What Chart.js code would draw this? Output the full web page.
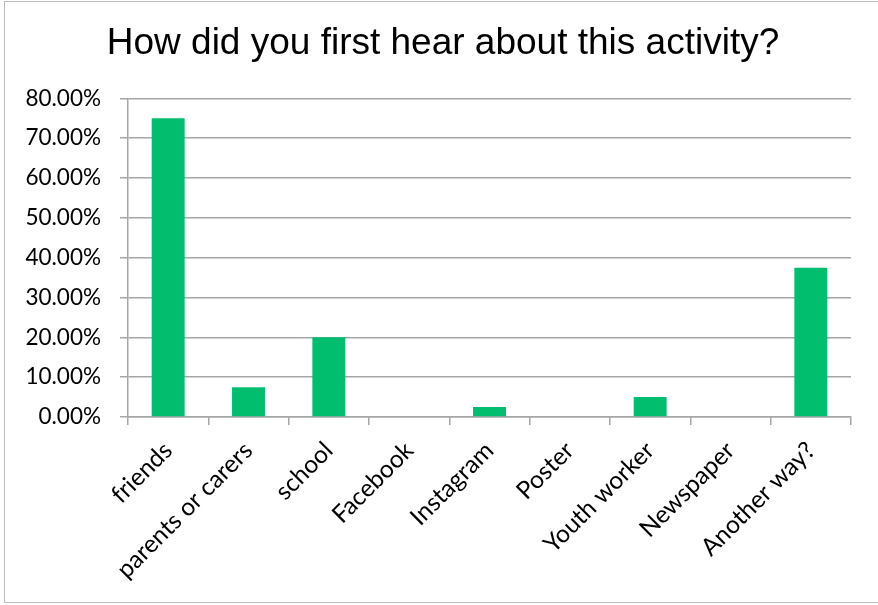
<!DOCTYPE html>
<html>
<head>
<meta charset="utf-8">
<script src="https://cdn.jsdelivr.net/npm/chart.js@4.4.0/dist/chart.umd.min.js"></script>
<style>
  html, body { margin: 0; padding: 0; background: #fff; }
  #wrap { position: relative; width: 878px; height: 605px; overflow: hidden; }
  #frame { position: absolute; left: 4px; top: 1px; width: 900px; height: 602px; border: 1.5px solid #bcbcbc; box-sizing: border-box; pointer-events: none; }
  canvas { position: absolute; left: 0; top: 0; }
</style>
</head>
<body>
<div id="wrap">
  <canvas id="chart" width="878" height="605"></canvas>
  <div id="frame"></div>
</div>
<script>
// Survey answers: share of respondents per source
const categories = ['friends', 'parents or carers', 'school', 'Facebook', 'Instagram', 'Poster', 'Youth worker', 'Newspaper', 'Another way?'];
const shares = [75, 7.5, 20, 0, 2.5, 0, 5, 0, 37.5];
const yTicks = [0, 10, 20, 30, 40, 50, 60, 70, 80];

const fontFamily = 'Lato, "Open Sans", sans-serif';
const gridGrey = '#a6a6a6';

// shift the title box so it is centred a little right of the canvas middle
const titleShift = {
    id: 'titleShift',
    afterLayout(chart) {
        if (chart.titleBlock) chart.titleBlock.left = 35;
    }
};

const ctx = document.getElementById('chart').getContext('2d');
const chart = new Chart(ctx, {
    type: 'bar',
    data: {
        labels: categories,
        datasets: [{
            data: shares,
            backgroundColor: '#00BE6E',
            barPercentage: 0.41,
            categoryPercentage: 1
        }]
    },
    plugins: [titleShift],
    options: {
        responsive: false,
        animation: false,
        layout: { padding: { left: 0, right: 27, top: 0, bottom: 0 } },
        plugins: {
            legend: { display: false },
            tooltip: { enabled: false },
            title: {
                display: true,
                text: 'How did you first hear about this activity?',
                color: '#000',
                font: { family: '"Liberation Sans", Arial, sans-serif', size: 37, weight: 'normal', lineHeight: 1.2 },
                padding: { top: 22, bottom: 32 }
            }
        },
        scales: {
            y: {
                min: 0,
                max: 80,
                afterBuildTicks: s => { s.ticks = yTicks.map(v => ({ value: v })); },
                afterFit: s => { s.width = 128; },
                ticks: {
                    color: '#000',
                    font: { family: fontFamily, size: 22.5 },
                    padding: 19,
                    callback: v => v.toFixed(2) + '%'
                },
                grid: { color: gridGrey, lineWidth: 1.5, tickLength: 8 },
                border: { color: gridGrey, width: 1.5 }
            },
            x: {
                afterFit: s => { s.height = 188; },
                ticks: {
                    color: '#000',
                    font: { family: fontFamily, size: 24.5 },
                    minRotation: 45,
                    maxRotation: 45,
                    padding: 11,
                    autoSkip: false
                },
                grid: { color: gridGrey, lineWidth: 1.5, tickLength: 8, drawOnChartArea: false, offset: true },
                border: { color: gridGrey, width: 1.5 }
            }
        }
    }
});
</script>
</body>
</html>
